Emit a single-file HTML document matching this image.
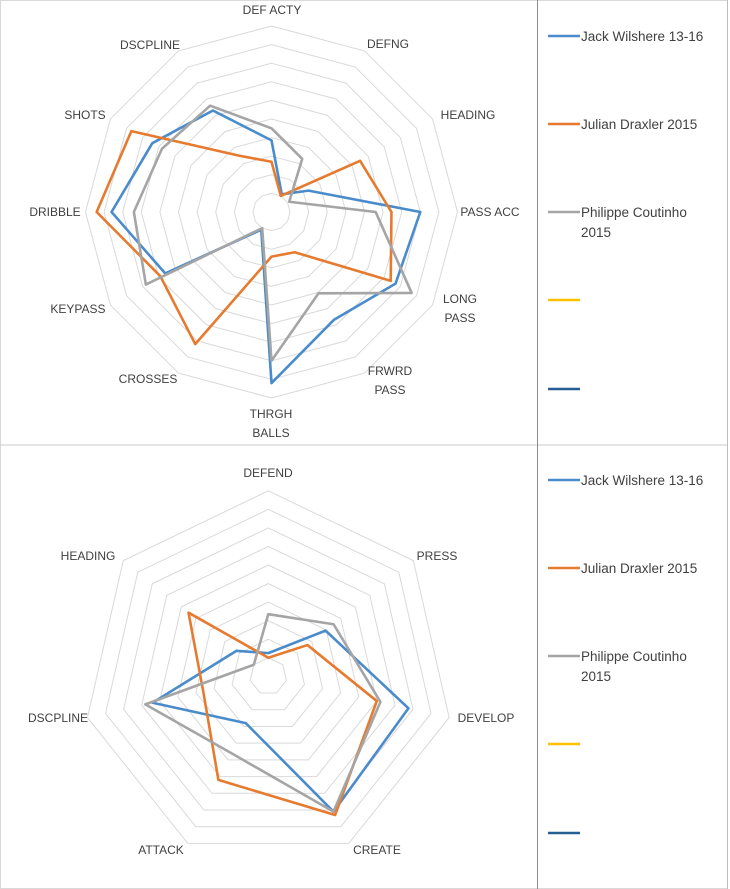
<!DOCTYPE html>
<html><head><meta charset="utf-8"><style>
html,body{margin:0;padding:0;background:#fff;}
body{width:730px;height:889px;overflow:hidden;position:relative;font-family:"Liberation Sans",sans-serif;}
svg{position:absolute;left:0;top:0;}
</style></head><body>
<svg id="svg" width="730" height="889" viewBox="0 0 730 889"></svg>
<script>
const topCategories=["DEF ACTY","DEFNG","HEADING","PASS ACC","LONG PASS","FRWRD PASS","THRGH BALLS","CROSSES","KEYPASS","DRIBBLE","SHOTS","DSCPLINE"];
const topWilshere=[3.85,1.1,2.3,8.0,7.7,6.7,9.2,1.1,6.6,8.6,7.4,6.3];
const topDraxler=[2.7,1.0,5.5,6.45,7.4,2.5,2.4,8.2,6.9,9.4,8.7,3.5];
const topCoutinho=[4.5,3.3,1.1,5.6,8.7,5.05,8.0,1.0,7.8,7.4,6.8,6.6];
const botCategories=["DEFEND","PRESS","DEVELOP","CREATE","ATTACK","DSCPLINE","HEADING"];
const botWilshere=[1.25,3.95,7.75,8.1,2.8,6.4,2.2];
const botDraxler=[1.0,2.7,6.0,8.3,6.2,3.6,5.5];
const botCoutinho=[3.35,4.5,6.2,8.1,4.6,6.8,1.0];
const seriesNames=["Jack Wilshere 13-16","Julian Draxler 2015","Philippe Coutinho 2015","",""];
const axisMax=10;
const ringCount=10;

const NS="http://www.w3.org/2000/svg";
const svg=document.getElementById('svg');
const colors=["#4a8ccb","#e67a2e","#a5a5a5","#ffc000","#255e91"];
function mk(tag,attrs,parent){const e=document.createElementNS(NS,tag);for(const k in attrs)e.setAttribute(k,attrs[k]);(parent||svg).appendChild(e);return e;}

const fr1=mk('rect',{x:0.5,y:0.5,width:727,height:888,fill:'none',stroke:'#d9d9d9'});


const hl=mk('line',{x1:0,y1:445,x2:728,y2:445,stroke:'#c8c8c8'});


const vl=mk('line',{x1:537.5,y1:0,x2:537.5,y2:889,stroke:'#8c8c8c'});


const rb=mk('line',{x1:727.5,y1:0,x2:727.5,y2:889,stroke:'#bdbdbd'});



// label layout (x, y of first line centre)
const topLabelLayout=[[272,10],[388,44],[468,115],[490,212],[460,299],[390,371],[271,414],[148,379],[78,309],[55,212],[85,115],[150,45]];
const botLabelLayout=[[268,473],[437,556],[486,718],[377,850],[161,850],[58,718],[88,556]];

function radar(name,cx,cy,R,cats,series,labelLines,layout){
  const g=mk('g',{});
  
  
  const n=cats.length;
  const ang=i=>i*2*Math.PI/n;
  const pt=(i,v)=>{const r=v/axisMax*R;return [cx+r*Math.sin(ang(i)),cy-r*Math.cos(ang(i))];};
  for(let k=1;k<=ringCount;k++){
    const pts=cats.map((c,i)=>pt(i,k*axisMax/ringCount).join(',')).join(' ');
    const ring=mk('polygon',{points:pts,fill:'none',stroke:'#d9d9d9','stroke-width':1},g);
    
    
  }
  cats.forEach((c,i)=>{
    const [x,y]=layout[i];
    const lines=labelLines[i];
    const t=mk('text',{x:x,y:y+4,'text-anchor':'middle','font-size':12,fill:'#404040'},g);
    
    
    lines.forEach((l,j)=>{const ts=mk('tspan',{x:x,dy:j?19:0},t);ts.textContent=l;});
  });
  series.forEach((vals,s)=>{
    const pts=vals.map((v,i)=>pt(i,v).join(',')).join(' ');
    const p=mk('polygon',{points:pts,fill:'none',stroke:colors[s],'stroke-width':2.6,'stroke-linejoin':'round'},g);
    
    
  });
}
function legend(name,y0){
  const g=mk('g',{});
  
  
  const ys=[0,88,176,264,353];
  seriesNames.forEach((nm,i)=>{
    const y=y0+ys[i];
    const l=mk('line',{x1:548,y1:y,x2:580,y2:y,stroke:colors[i],'stroke-width':2.6},g);
    
    
    if(nm){
      const t=mk('text',{x:581,y:y+5,'font-size':13.5,fill:'#404040'},g);
      
      
      if(nm==="Philippe Coutinho 2015"){
        const a=mk('tspan',{x:581,dy:0},t);a.textContent="Philippe Coutinho";
        const b=mk('tspan',{x:581,dy:20},t);b.textContent="2015";
      } else t.textContent=nm;
    }
  });
}
radar('top-radar-chart',271.5,212,186,topCategories,[topWilshere,topDraxler,topCoutinho],
  [["DEF ACTY"],["DEFNG"],["HEADING"],["PASS ACC"],["LONG","PASS"],["FRWRD","PASS"],["THRGH","BALLS"],["CROSSES"],["KEYPASS"],["DRIBBLE"],["SHOTS"],["DSCPLINE"]],topLabelLayout);
radar('bottom-radar-chart',268.3,676.3,185.5,botCategories,[botWilshere,botDraxler,botCoutinho],
  [["DEFEND"],["PRESS"],["DEVELOP"],["CREATE"],["ATTACK"],["DSCPLINE"],["HEADING"]],botLabelLayout);
legend('top-legend',36);
legend('bottom-legend',480);
</script>
</body></html>
